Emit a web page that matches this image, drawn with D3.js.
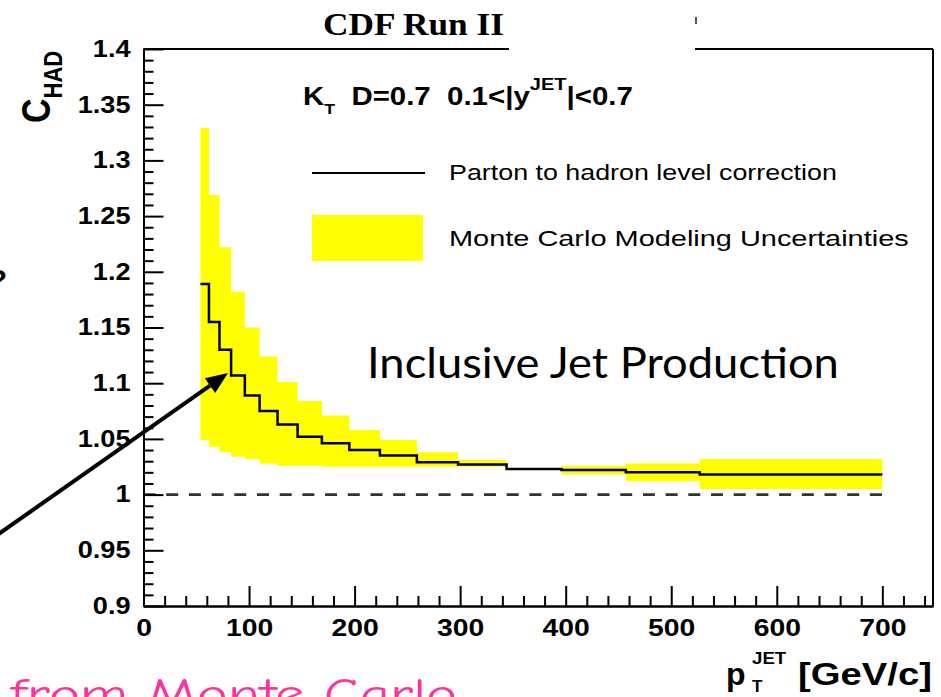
<!DOCTYPE html>
<html>
<head>
<meta charset="utf-8">
<script src="https://cdn.jsdelivr.net/npm/d3@7"></script>
<style>
  body { margin: 0; background: #fff; }
  svg { display: block; font-family: "Liberation Sans", Arial, Helvetica, sans-serif; }
</style>
</head>
<body>
<svg id="chart" width="941" height="697"></svg>
<script>
// pT bin edges [GeV/c]
const binEdges = [54, 62, 72, 83, 96, 110, 127, 146, 169, 195, 224, 259, 298, 344, 396, 457, 527, 700];
// parton-to-hadron correction per bin
const correction = [1.189, 1.155, 1.130, 1.107, 1.089, 1.075, 1.063, 1.052, 1.046, 1.040, 1.035, 1.029, 1.027, 1.023, 1.022, 1.020, 1.018];
// Monte Carlo modelling uncertainty band per bin
const bandHigh = [1.329, 1.269, 1.222, 1.182, 1.150, 1.124, 1.101, 1.084, 1.071, 1.058, 1.049, 1.038, 1.031, 1.023, 1.026, 1.028, 1.032];
const bandLow  = [1.049, 1.043, 1.038, 1.034, 1.032, 1.028, 1.026, 1.026, 1.025, 1.025, 1.025, 1.025, 1.025, 1.023, 1.018, 1.012, 1.005];

const xMajorTicks = [0, 100, 200, 300, 400, 500, 600, 700];
const xTickLabels = ["0", "100", "200", "300", "400", "500", "600", "700"];
const yMajorTicks = [0.9, 0.95, 1, 1.05, 1.1, 1.15, 1.2, 1.25, 1.3, 1.35, 1.4];
const yTickLabels = ["0.9", "0.95", "1", "1.05", "1.1", "1.15", "1.2", "1.25", "1.3", "1.35", "1.4"];
const referenceLevel = 1.0;

const svg = d3.select("#chart");
const x = d3.scaleLinear().domain([0, 748]).range([143.5, 933]);
const y = d3.scaleLinear().domain([0.9, 1.4]).range([606, 49]);
const STRETCH = 1.18;

function fitWidth(sel, w) {
  const bb = sel.node().getBBox();
  const s = w / bb.width;
  sel.attr("transform", `translate(${bb.x},0) scale(${s},1) translate(${-bb.x},0)`);
}

// step points: each bin edge carries the value of the bin that starts there
const last = correction.length - 1;
const steps = binEdges.map((e, i) => ({
  e,
  v: correction[Math.min(i, last)],
  lo: bandLow[Math.min(i, last)],
  hi: bandHigh[Math.min(i, last)]
}));

// uncertainty band
svg.append("path")
  .datum(steps)
  .attr("fill", "#ffff00")
  .attr("d", d3.area().curve(d3.curveStepAfter)
    .x(d => x(d.e)).y0(d => y(d.lo)).y1(d => y(d.hi)));

// reference line at 1
svg.append("line")
  .attr("x1", x(0)).attr("x2", x(700))
  .attr("y1", y(referenceLevel)).attr("y2", y(referenceLevel))
  .attr("stroke", "#333").attr("stroke-width", 2.6)
  .attr("stroke-dasharray", "12,10.7");

// correction histogram
svg.append("path")
  .datum(steps)
  .attr("fill", "none")
  .attr("stroke", "#000")
  .attr("stroke-width", 2.5)
  .attr("d", d3.line().curve(d3.curveStepAfter).x(d => x(d.e)).y(d => y(d.v)));

// axes: ticks point into the frame
const xMinor = d3.range(0, 741, 20).filter(v => v % 100 !== 0);
const yMinor = d3.range(90, 141).filter(v => v % 5 !== 0).map(v => v / 100);

const gxMinor = svg.append("g").attr("transform", `translate(0,${y(0.9)})`)
  .call(d3.axisBottom(x).tickValues(xMinor).tickSize(-10).tickSizeOuter(0).tickFormat(""));
const gx = svg.append("g").attr("transform", `translate(0,${y(0.9)})`)
  .call(d3.axisBottom(x).tickValues(xMajorTicks).tickSize(-20).tickSizeOuter(0).tickPadding(13)
    .tickFormat((d, i) => xTickLabels[i]));
const gyMinor = svg.append("g").attr("transform", `translate(${x(0)},0)`)
  .call(d3.axisLeft(y).tickValues(yMinor).tickSize(-10).tickSizeOuter(0).tickFormat(""));
const gy = svg.append("g").attr("transform", `translate(${x(0)},0)`)
  .call(d3.axisLeft(y).tickValues(yMajorTicks).tickSize(-20).tickSizeOuter(0).tickPadding(13)
    .tickFormat((d, i) => yTickLabels[i]));

[gxMinor, gx, gyMinor, gy].forEach(g => {
  g.attr("font-family", null);
  g.selectAll("path.domain").attr("stroke", "#000").attr("stroke-width", 2);
  g.selectAll(".tick line").attr("stroke", "#000").attr("stroke-width", 2);
});
gx.selectAll(".tick text")
  .attr("fill", "#000").attr("font-size", 24).attr("font-weight", "bold")
  .attr("transform", `scale(${STRETCH},1)`);
gy.selectAll(".tick text")
  .attr("fill", "#000").attr("font-size", 23).attr("font-weight", "bold")
  .attr("transform", `translate(-13,0) scale(${STRETCH},1) translate(13,0)`);

// remaining frame edges (top edge is interrupted under the title)
const frame = svg.append("g").attr("stroke", "#000").attr("stroke-width", 2);
frame.append("line").attr("x1", x(748)).attr("x2", x(748)).attr("y1", y(1.4)).attr("y2", y(0.9));
frame.append("line").attr("x1", x(0)).attr("x2", 509).attr("y1", y(1.4)).attr("y2", y(1.4));
frame.append("line").attr("x1", 695).attr("x2", x(748)).attr("y1", y(1.4)).attr("y2", y(1.4));
svg.append("line").attr("x1", 696).attr("x2", 696).attr("y1", 17).attr("y2", 24)
  .attr("stroke", "#555").attr("stroke-width", 2);

// title
const title = svg.append("text")
  .attr("x", 323).attr("y", 35)
  .style("font-family", "'Liberation Serif', 'Times New Roman', serif")
  .attr("font-weight", "bold").attr("font-size", 31).attr("fill", "#000")
  .text("CDF Run II");
fitWidth(title, 181);

// y-axis title
const yTitle = svg.append("text")
  .attr("transform", `translate(50,123) scale(${STRETCH},1) rotate(-90)`)
  .attr("font-weight", "bold").attr("fill", "#000");
yTitle.append("tspan").attr("font-size", 34).text("C");
yTitle.append("tspan").attr("font-size", 22).attr("dy", 10).text("HAD");

// x-axis title
const xTitle = svg.append("g").attr("fill", "#000");
xTitle.append("text").attr("x", 726).attr("y", 685).attr("font-size", 32).attr("font-weight", "bold").text("p");
xTitle.append("text").attr("x", 752).attr("y", 692).attr("font-size", 17).attr("font-weight", "bold").text("T");
const jet = xTitle.append("text").attr("x", 752).attr("y", 664).attr("font-size", 17).attr("font-weight", "bold").text("JET");
fitWidth(jet, 35);
const unit = xTitle.append("text").attr("x", 798).attr("y", 685).attr("font-size", 31).attr("font-weight", "bold").text("[GeV/c]");
fitWidth(unit, 134);

// selection header
const header = svg.append("text")
  .attr("x", 303).attr("y", 105)
  .attr("font-weight", "bold").attr("font-size", 25).attr("fill", "#000")
  .style("white-space", "pre");
header.append("tspan").text("K");
header.append("tspan").attr("font-size", 15).attr("dy", 9).text("T");
header.append("tspan").attr("dy", -9).text("  D=0.7  0.1<|y");
header.append("tspan").attr("font-size", 17).attr("dy", -15).text("JET");
header.append("tspan").attr("dy", 15).text("|<0.7");
fitWidth(header, 330);

// legend
svg.append("line").attr("x1", 312).attr("x2", 425).attr("y1", 173).attr("y2", 173)
  .attr("stroke", "#000").attr("stroke-width", 2);
const l1 = svg.append("text").attr("x", 449).attr("y", 180).attr("font-size", 22).attr("fill", "#000")
  .text("Parton to hadron level correction");
fitWidth(l1, 388);
svg.append("rect").attr("x", 312).attr("y", 215).attr("width", 111).attr("height", 46).attr("fill", "#ffff00");
const l2 = svg.append("text").attr("x", 449).attr("y", 246).attr("font-size", 22).attr("fill", "#000")
  .text("Monte Carlo Modeling Uncertainties");
fitWidth(l2, 460);

// slide annotations
const incl = svg.append("text").attr("x", 367).attr("y", 378)
  .style("font-family", "Lato, 'Open Sans', sans-serif").attr("font-size", 42).attr("fill", "#000")
  .text("Inclusive Jet Production");
fitWidth(incl, 472);

const mc = svg.append("text").attr("x", 10).attr("y", 708)
  .style("font-family", "'Comic Sans MS', 'Comic Neue', 'Noto Sans', sans-serif").attr("font-size", 42).attr("fill", "#ff3399")
  .text("from Monte Carlo");
fitWidth(mc, 448);

svg.append("text").attr("x", 7).attr("y", 290).attr("text-anchor", "end")
  .attr("font-size", 30).attr("font-weight", "bold").attr("fill", "#000").text("?");

// arrow pointing at the correction curve
const a0 = [0, 533], a1 = [228, 373];
const ang = Math.atan2(a1[1] - a0[1], a1[0] - a0[0]);
const headLen = 22, headW = 9;
const base = [a1[0] - headLen * Math.cos(ang), a1[1] - headLen * Math.sin(ang)];
svg.append("line").attr("x1", a0[0] - 20 * Math.cos(ang)).attr("y1", a0[1] - 20 * Math.sin(ang))
  .attr("x2", base[0]).attr("y2", base[1])
  .attr("stroke", "#000").attr("stroke-width", 4);
svg.append("path")
  .attr("d", d3.line()([
    a1,
    [base[0] + headW * Math.sin(ang), base[1] - headW * Math.cos(ang)],
    [base[0] - headW * Math.sin(ang), base[1] + headW * Math.cos(ang)]
  ]) + "Z")
  .attr("fill", "#000");
</script>
</body>
</html>
